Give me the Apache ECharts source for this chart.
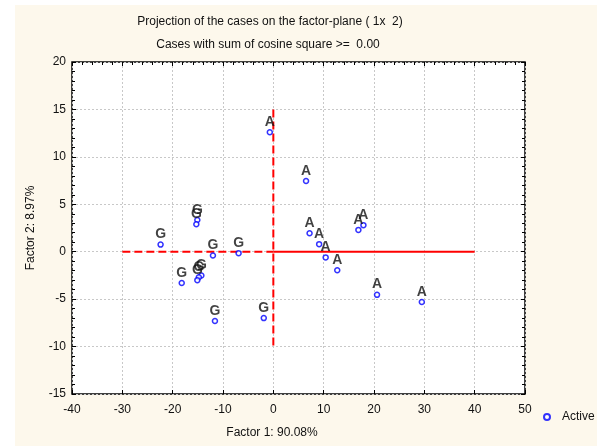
<!DOCTYPE html>
<html>
<head>
<meta charset="utf-8">
<script src="https://cdn.jsdelivr.net/npm/echarts@6/dist/echarts.min.js"></script>
<style>
  html, body { margin: 0; padding: 0; background: #fff; }
  #chart { width: 597px; height: 446px; }
</style>
</head>
<body>
<div id="chart"></div>
<script>
// cases labelled "A"
const pointsA = [
  [-0.7, 12.6], [6.5, 7.45], [7.2, 1.95], [9.1, 0.8], [10.4, -0.6],
  [12.7, -1.95], [16.9, 2.3], [17.9, 2.8], [20.6, -4.55], [29.5, -5.3]
]
// cases labelled "G"
const pointsG = [
  [-22.4, 0.75], [-15.1, 3.35], [-15.3, 2.9], [-12.0, -0.4], [-6.9, -0.15],
  [-18.2, -3.3], [-14.3, -2.5], [-14.8, -2.7], [-15.1, -3.0], [-11.6, -7.3],
  [-1.9, -7.0]
]
// red reference lines
const vertLine = [[0, 15], [0, -10]]
const leftLine = [[-30, 0], [0, 0]]
const rightLine = [[0, 0], [40, 0]]

const xMin = -40, xMax = 50, xStep = 10
const yMin = -15, yMax = 20, yStep = 5

const FONT = 'Liberation Sans, Arial, sans-serif'

const chart = echarts.init(document.getElementById('chart'))

const markerStyle = {
  symbol: 'circle',
  symbolSize: 5,
  itemStyle: { color: '#fff', borderColor: '#0000ff', borderWidth: 1.5 }
}

const scatterSeries = (data, letter) => ({
  name: 'Active',
  type: 'scatter',
  data: data,
  ...markerStyle,
  z: 5,
  label: {
    show: true,
    position: 'top',
    distance: 0,
    formatter: letter,
    fontFamily: FONT,
    fontSize: 14,
    fontWeight: 'bold',
    color: '#111'
  }
})

const refLine = (data, type) => ({
  type: 'line',
  data: data,
  symbol: 'none',
  silent: true,
  z: 3,
  lineStyle: { color: '#ff0000', width: 2, type: type }
})

const hiddenLine = { show: false, onZero: false }
const tick = { show: true, inside: true, length: 4, lineStyle: { color: '#000' } }
const minor = { show: true, splitNumber: 5, length: 3, lineStyle: { color: '#000' } }
const dotted = { show: true, lineStyle: { color: '#c8c8c8', type: [2, 2], width: 1 } }

const option = {
  backgroundColor: '#fff',
  animation: false,
  graphic: [
    { type: 'rect', left: 15, top: 5, z: -10, shape: { width: 582, height: 441 }, style: { fill: '#fdf8ec' } },
    { type: 'text', x: 270, y: 22, style: { text: 'Projection of the cases on the factor-plane ( 1x  2)', font: '12px ' + FONT, fill: '#111', textAlign: 'center', textVerticalAlign: 'middle' } },
    { type: 'text', x: 268, y: 45, style: { text: 'Cases with sum of cosine square >=  0.00', font: '12px ' + FONT, fill: '#111', textAlign: 'center', textVerticalAlign: 'middle' } },
    { type: 'text', x: 272, y: 433, style: { text: 'Factor 1: 90.08%', font: '12px ' + FONT, fill: '#111', textAlign: 'center', textVerticalAlign: 'middle' } }
  ],
  legend: {
    data: ['Active'],
    left: 538,
    top: 406,
    itemWidth: 20,
    itemHeight: 6,
    textStyle: { fontFamily: FONT, fontSize: 12, color: '#111' }
  },
  grid: {
    left: 72, right: 72, top: 62, bottom: 52,
    show: true,
    backgroundColor: '#fff',
    borderColor: '#000',
    borderWidth: 1.5
  },
  xAxis: [
    {
      type: 'value', min: xMin, max: xMax, interval: xStep,
      axisLine: hiddenLine,
      axisTick: tick,
      axisLabel: { fontFamily: FONT, fontSize: 12, color: '#111', margin: 10 },
      splitLine: dotted
    },
    {
      type: 'value', min: xMin, max: xMax, interval: xStep, position: 'top',
      axisLine: hiddenLine,
      axisTick: tick,
      minorTick: minor,
      axisLabel: { show: false },
      splitLine: { show: false }
    }
  ],
  yAxis: [
    {
      type: 'value', min: yMin, max: yMax, interval: yStep,
      name: 'Factor 2: 8.97%',
      nameLocation: 'middle',
      nameGap: 35,
      nameTextStyle: { fontFamily: FONT, fontSize: 12, color: '#111' },
      axisLine: hiddenLine,
      axisTick: tick,
      minorTick: minor,
      axisLabel: { fontFamily: FONT, fontSize: 12, color: '#111', margin: 6 },
      splitLine: dotted
    },
    {
      type: 'value', min: yMin, max: yMax, interval: yStep, position: 'right',
      axisLine: hiddenLine,
      axisTick: tick,
      minorTick: minor,
      axisLabel: { show: false },
      splitLine: { show: false }
    }
  ],
  series: [
    refLine(vertLine, [8, 4]),
    refLine(leftLine, [8, 4]),
    refLine(rightLine, 'solid'),
    scatterSeries(pointsA, 'A'),
    scatterSeries(pointsG, 'G')
  ]
}

chart.setOption(option)
</script>
</body>
</html>
